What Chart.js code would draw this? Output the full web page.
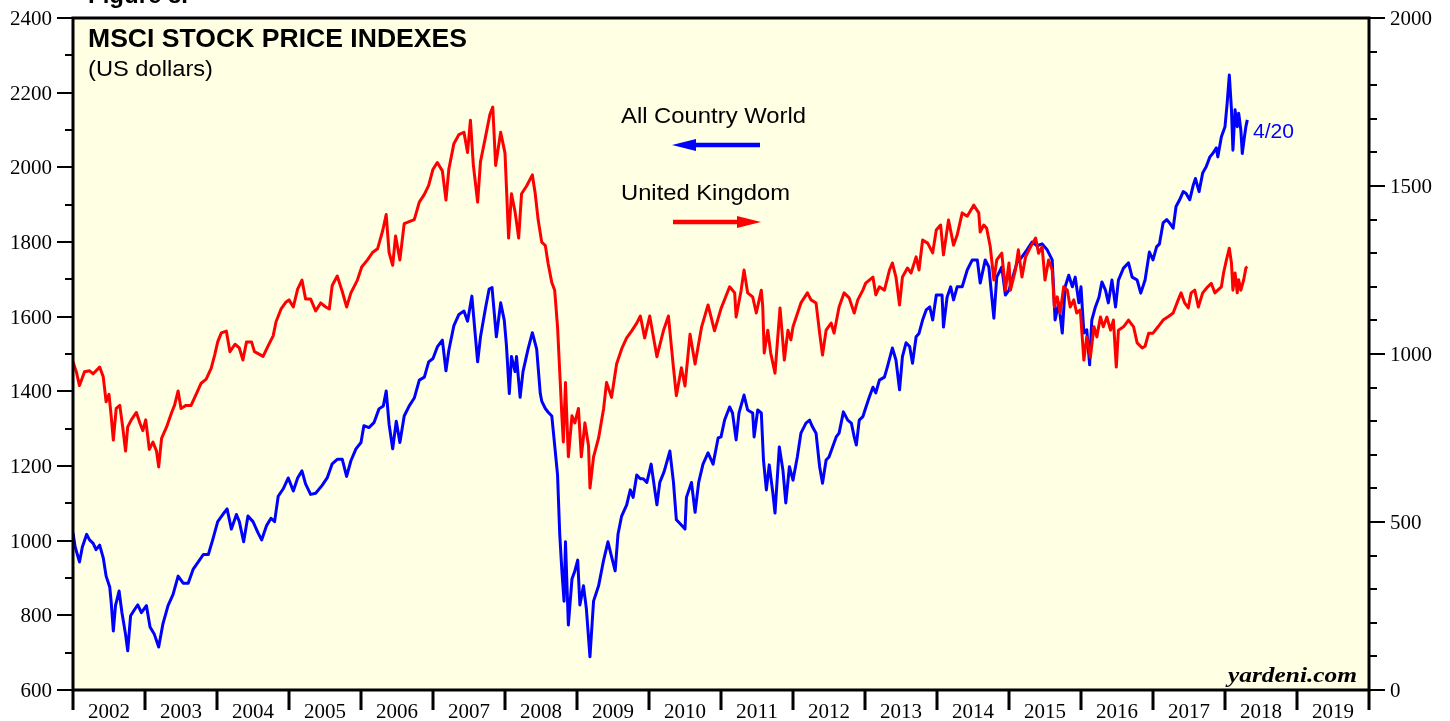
<!DOCTYPE html>
<html>
<head>
<meta charset="utf-8">
<script src="https://cdn.jsdelivr.net/npm/chart.js@4.4.1/dist/chart.umd.min.js"></script>
<style>
html,body{margin:0;padding:0;background:#fff;}
canvas{display:block;}
</style>
</head>
<body>
<canvas id="c" width="1450" height="721"></canvas>
<script>
// ---- Data ----
const yearLabels = ['2002','2003','2004','2005','2006','2007','2008','2009','2010','2011','2012','2013','2014','2015','2016','2017','2018','2019'];

// MSCI All Country World (left axis, US dollars)
const acwYears = [
2002.00,2002.03,2002.09,2002.13,2002.19,2002.23,2002.28,2002.32,2002.37,2002.42,2002.46,2002.51,2002.53,2002.56,2002.59,2002.64,2002.68,2002.73,2002.76,2002.80,2002.86,2002.90,2002.95,
2003.02,2003.07,2003.13,2003.19,2003.25,2003.32,2003.39,2003.46,2003.53,2003.60,2003.67,2003.74,2003.81,2003.88,2003.94,
2004.01,2004.08,2004.14,2004.20,2004.27,2004.31,2004.37,2004.43,2004.50,2004.57,2004.62,2004.69,2004.75,2004.80,2004.85,2004.92,2004.99,
2005.06,2005.12,2005.18,2005.23,2005.30,2005.37,2005.46,2005.53,2005.60,2005.67,2005.74,2005.80,2005.86,2005.93,
2006.00,2006.04,2006.11,2006.18,2006.25,2006.31,2006.35,2006.39,2006.44,2006.49,2006.54,2006.60,2006.67,2006.74,2006.81,2006.88,2006.94,
2007.00,2007.06,2007.13,2007.18,2007.22,2007.29,2007.36,2007.43,2007.48,2007.54,2007.57,2007.62,2007.66,2007.73,2007.78,2007.82,2007.88,2007.94,2007.99,
2008.02,2008.06,2008.09,2008.14,2008.16,2008.21,2008.25,2008.32,2008.38,2008.44,2008.49,2008.51,2008.56,2008.60,2008.65,2008.69,2008.73,2008.76,2008.79,2008.82,2008.84,2008.88,2008.93,2008.97,
2009.01,2009.04,2009.09,2009.13,2009.18,2009.23,2009.30,2009.37,2009.43,2009.48,2009.53,2009.57,2009.62,2009.69,2009.74,2009.78,2009.83,2009.88,2009.92,2009.97,
2010.03,2010.08,2010.11,2010.15,2010.21,2010.29,2010.34,2010.38,2010.43,2010.50,2010.52,2010.59,2010.64,2010.69,2010.75,2010.82,2010.89,2010.96,
2011.00,2011.05,2011.12,2011.16,2011.21,2011.25,2011.32,2011.37,2011.44,2011.46,2011.51,2011.56,2011.59,2011.63,2011.67,2011.72,2011.75,2011.81,2011.86,2011.90,2011.95,
2012.00,2012.06,2012.11,2012.18,2012.23,2012.27,2012.32,2012.37,2012.41,2012.46,2012.50,2012.55,2012.60,2012.64,2012.70,2012.76,2012.81,2012.85,2012.88,2012.92,2012.97,
2013.00,2013.06,2013.11,2013.15,2013.20,2013.27,2013.31,2013.38,2013.43,2013.48,2013.52,2013.57,2013.62,2013.66,2013.71,2013.75,2013.80,2013.85,2013.90,2013.94,2013.99,
2014.07,2014.09,2014.14,2014.19,2014.23,2014.28,2014.35,2014.42,2014.49,2014.56,2014.60,2014.67,2014.72,2014.79,2014.83,2014.90,2014.95,
2015.00,2015.04,2015.11,2015.18,2015.25,2015.32,2015.39,2015.46,2015.53,2015.60,2015.64,2015.69,2015.74,2015.78,2015.83,2015.88,2015.92,2015.97,
2016.00,2016.04,2016.08,2016.12,2016.15,2016.20,2016.25,2016.29,2016.34,2016.38,2016.43,2016.48,2016.52,2016.59,2016.66,2016.71,2016.78,2016.83,2016.89,2016.95,
2017.00,2017.05,2017.09,2017.14,2017.19,2017.23,2017.28,2017.32,2017.37,2017.42,2017.46,2017.51,2017.56,2017.59,2017.64,2017.69,2017.74,2017.79,2017.83,2017.88,2017.90,2017.95,
2018.00,2018.03,2018.06,2018.09,2018.11,2018.14,2018.17,2018.19,2018.22,2018.24,2018.27,2018.29,2018.31
];
const acwValues = [
1021,983,943,983,1017,1002,993,976,988,954,905,876,836,758,826,865,807,749,705,799,817,828,807,
826,769,749,715,778,826,856,905,886,886,924,943,963,963,1002,
1051,1070,1085,1031,1070,1051,997,1066,1051,1021,1002,1041,1060,1051,1119,1139,1168,
1133,1168,1187,1152,1124,1127,1148,1168,1206,1218,1218,1172,1214,1246,
1263,1308,1303,1316,1353,1361,1401,1312,1246,1320,1263,1334,1361,1382,1430,1438,1479,
1488,1519,1537,1455,1510,1576,1606,1615,1588,1655,1588,1479,1546,1624,1674,1678,1546,1637,1590,
1523,1394,1493,1453,1493,1384,1453,1513,1557,1513,1394,1374,1354,1344,1334,1255,1176,1018,919,838,997,774,897,919,
948,828,879,818,689,838,879,948,997,957,919,1018,1066,1096,1136,1116,1176,1166,1166,1156,
1205,1136,1096,1156,1185,1240,1156,1056,1046,1031,1116,1156,1076,1156,1205,1235,1205,1275,
1278,1323,1358,1342,1270,1342,1390,1350,1342,1278,1350,1342,1216,1136,1203,1128,1074,1251,1189,1101,1198,
1162,1224,1288,1315,1323,1305,1288,1198,1154,1216,1224,1251,1278,1288,1345,1323,1315,1278,1256,1323,1332,
1350,1385,1411,1396,1430,1438,1465,1516,1484,1404,1493,1530,1520,1475,1546,1555,1591,1618,1626,1591,1658,
1658,1572,1652,1680,1645,1680,1680,1725,1752,1752,1690,1752,1733,1596,1706,1733,1658,
1671,1698,1744,1760,1779,1800,1790,1795,1779,1752,1591,1637,1556,1680,1711,1680,1706,1637,
1680,1556,1565,1471,1591,1626,1652,1693,1671,1637,1698,1626,1698,1730,1744,1706,1698,1663,1698,1773,
1752,1787,1795,1851,1860,1851,1837,1895,1913,1935,1930,1913,1953,1970,1935,1985,2002,2028,2037,2052,2028,2082,
2109,2172,2247,2154,2046,2154,2109,2145,2100,2037,2082,2109,2127
];

// MSCI United Kingdom (right axis, US dollars)
const ukYears = [
2002.00,2002.05,2002.09,2002.16,2002.23,2002.28,2002.37,2002.42,2002.46,2002.50,2002.53,2002.56,2002.60,2002.65,2002.69,2002.73,2002.76,2002.81,2002.88,2002.93,2002.97,
2003.01,2003.06,2003.11,2003.16,2003.19,2003.23,2003.30,2003.37,2003.41,2003.46,2003.50,2003.57,2003.64,2003.71,2003.78,2003.85,2003.92,2003.97,
2004.01,2004.06,2004.13,2004.18,2004.25,2004.31,2004.36,2004.41,2004.48,2004.52,2004.59,2004.64,2004.71,2004.78,2004.82,2004.89,2004.96,
2005.00,2005.06,2005.12,2005.18,2005.23,2005.30,2005.37,2005.44,2005.51,2005.56,2005.60,2005.67,2005.74,2005.80,2005.86,2005.95,
2006.01,2006.09,2006.16,2006.23,2006.30,2006.35,2006.39,2006.44,2006.48,2006.54,2006.60,2006.67,2006.74,2006.81,2006.88,2006.94,
2007.00,2007.06,2007.13,2007.18,2007.22,2007.29,2007.36,2007.43,2007.48,2007.52,2007.56,2007.62,2007.66,2007.73,2007.79,2007.83,2007.87,2007.94,
2008.00,2008.05,2008.09,2008.14,2008.19,2008.23,2008.30,2008.38,2008.42,2008.46,2008.51,2008.56,2008.60,2008.65,2008.69,2008.73,2008.76,2008.79,2008.81,2008.84,2008.88,2008.93,2008.97,
2009.02,2009.06,2009.11,2009.16,2009.18,2009.23,2009.30,2009.37,2009.41,2009.48,2009.55,2009.62,2009.69,2009.76,2009.83,2009.88,2009.94,
2010.01,2010.11,2010.20,2010.27,2010.34,2010.38,2010.45,2010.50,2010.57,2010.64,2010.73,2010.82,2010.91,
2011.00,2011.12,2011.19,2011.21,2011.28,2011.32,2011.37,2011.44,2011.49,2011.56,2011.58,2011.60,2011.65,2011.69,2011.75,2011.82,2011.88,2011.93,2011.97,
2012.00,2012.11,2012.20,2012.25,2012.32,2012.37,2012.41,2012.46,2012.53,2012.57,2012.64,2012.71,2012.78,2012.85,2012.90,2012.97,
2013.01,2013.06,2013.11,2013.15,2013.20,2013.27,2013.34,2013.38,2013.43,2013.48,2013.52,2013.59,2013.64,2013.71,2013.75,2013.80,2013.87,2013.94,2013.99,
2014.05,2014.09,2014.16,2014.23,2014.28,2014.35,2014.42,2014.51,2014.58,2014.60,2014.65,2014.69,2014.74,2014.79,2014.83,2014.90,2014.95,
2015.00,2015.02,2015.09,2015.13,2015.18,2015.23,2015.30,2015.37,2015.41,2015.46,2015.50,2015.55,2015.60,2015.63,2015.67,2015.71,2015.76,2015.81,2015.85,2015.90,2015.94,2015.99,
2016.04,2016.08,2016.13,2016.18,2016.22,2016.27,2016.31,2016.36,2016.41,2016.45,2016.49,2016.52,2016.59,2016.66,2016.73,2016.78,2016.85,2016.89,2016.94,
2017.00,2017.07,2017.14,2017.21,2017.28,2017.35,2017.39,2017.44,2017.49,2017.53,2017.58,2017.63,2017.69,2017.76,2017.81,2017.86,2017.90,2017.95,2017.98,
2018.02,2018.06,2018.09,2018.11,2018.14,2018.17,2018.19,2018.22,2018.26,2018.29,2018.31
];
const ukValues = [
977,944,906,947,950,941,961,932,858,880,816,744,838,847,783,711,783,804,826,794,772,
804,716,738,711,664,749,783,826,847,890,838,847,847,880,913,925,958,999,
1036,1063,1068,1007,1029,1018,982,1036,1036,1007,999,993,1024,1054,1096,1134,1155,
1161,1140,1193,1220,1164,1164,1128,1152,1140,1134,1204,1232,1186,1140,1182,1220,
1259,1280,1302,1313,1366,1415,1302,1264,1351,1280,1388,1394,1400,1452,1475,1502,
1550,1570,1545,1458,1550,1626,1653,1660,1600,1696,1563,1452,1573,1647,1713,1735,1561,1660,
1598,1345,1477,1423,1345,1477,1500,1533,1477,1400,1333,1323,1268,1213,1190,1080,948,816,738,915,694,816,795,
838,694,795,727,601,694,750,838,915,871,970,1015,1048,1069,1092,1113,1048,
1113,992,1069,1113,959,876,959,905,1059,970,1080,1146,1069,
1135,1200,1182,1110,1190,1250,1182,1170,1122,1190,1140,1003,1071,1003,943,1137,982,1071,1042,
1081,1152,1182,1161,1152,1062,997,1071,1092,1062,1140,1182,1167,1122,1161,1190,
1211,1220,1229,1176,1200,1190,1250,1271,1229,1146,1229,1256,1241,1289,1250,1339,1330,1301,1369,
1384,1295,1399,1324,1354,1420,1410,1443,1420,1363,1384,1374,1319,1220,1280,1300,1190,
1271,1190,1250,1310,1229,1289,1319,1345,1300,1319,1220,1280,1250,1140,1170,1122,1200,1190,1140,1161,1122,1131,
982,1051,990,1081,1051,1110,1081,1110,1071,1101,961,1071,1081,1101,1081,1033,1018,1023,1062,
1062,1081,1101,1111,1122,1161,1182,1152,1137,1182,1190,1140,1182,1200,1210,1182,1190,1200,1241,
1280,1315,1270,1190,1241,1182,1221,1190,1221,1256,1260
];

const leftTicks = {min:600, max:2400, step:100, labelEvery:200};
const rightTicks = {min:0, max:2000, step:100, labelEvery:500};
const endLabel = '4/20';

// ---- Helpers ----
function pts(xs, ys){ return xs.map((x,i)=>({x:x, y:ys[i]})); }

function fitText(ctx, str, x, y, font, color, targetW, align){
  ctx.save();
  ctx.font = font;
  ctx.fillStyle = color;
  ctx.textBaseline = 'alphabetic';
  const w = ctx.measureText(str).width;
  const sx = targetW ? targetW / w : 1;
  let left = x;
  if (align === 'center') left = x - (w*sx)/2;
  if (align === 'right') left = x - (w*sx);
  ctx.translate(left, y);
  ctx.scale(sx, 1);
  ctx.textAlign = 'left';
  ctx.fillText(str, 0, 0);
  ctx.restore();
}

const numFont = '20px "Liberation Serif", "Times New Roman", serif';
const digitW = 10.5;

const deco = {
  id: 'deco',
  beforeDatasetsDraw(chart){
    const {ctx, chartArea:a} = chart;
    ctx.save();
    ctx.fillStyle = '#ffffe4';
    ctx.fillRect(a.left, a.top, a.right-a.left, a.bottom-a.top);
    ctx.restore();
  },
  afterDraw(chart){
    const {ctx, chartArea:a, scales} = chart;
    const xs = scales.x, yl = scales.y, yr = scales.y2;
    ctx.save();
    // ticks
    ctx.strokeStyle = '#000';
    ctx.lineWidth = 2;
    ctx.beginPath();
    for (let v = leftTicks.min; v <= leftTicks.max; v += leftTicks.step){
      const py = Math.round(yl.getPixelForValue(v));
      const len = (v % leftTicks.labelEvery === 0) ? 16 : 8;
      ctx.moveTo(a.left - len, py); ctx.lineTo(a.left, py);
    }
    for (let v = rightTicks.min; v <= rightTicks.max; v += rightTicks.step){
      const py = Math.round(yr.getPixelForValue(v));
      const len = (v % rightTicks.labelEvery === 0) ? 16 : 8;
      ctx.moveTo(a.right, py); ctx.lineTo(a.right + len, py);
    }
    ctx.stroke();
    ctx.lineWidth = 3;
    ctx.beginPath();
    for (let i = 0; i <= yearLabels.length; i++){
      const px = xs.getPixelForValue(parseInt(yearLabels[0]) + i);
      ctx.moveTo(px, a.bottom); ctx.lineTo(px, a.bottom + 20);
    }
    ctx.stroke();
    // frame
    ctx.lineWidth = 3;
    ctx.strokeRect(a.left, a.top, a.right-a.left, a.bottom-a.top);
    ctx.restore();

    // axis value labels (left and right)
    for (let v = leftTicks.min; v <= leftTicks.max; v += leftTicks.labelEvery){
      const py = yl.getPixelForValue(v);
      const s = String(v);
      fitText(ctx, s, a.left - 21, py + 7, numFont, '#000', s.length * digitW, 'right');
    }
    for (let v = rightTicks.min; v <= rightTicks.max; v += rightTicks.labelEvery){
      const py = yr.getPixelForValue(v);
      const s = String(v);
      fitText(ctx, s, a.right + 21, py + 7, numFont, '#000', s.length * digitW, 'left');
    }

    // year labels
    yearLabels.forEach((lab)=>{
      const px = xs.getPixelForValue(parseInt(lab) + 0.5);
      fitText(ctx, lab, px, 718, numFont, '#000', 42, 'center');
    });

    // texts
    fitText(ctx, 'Figure 8.', 88, 3, 'bold 24px "Liberation Sans", Arial, sans-serif', '#000', 0);
    fitText(ctx, 'MSCI STOCK PRICE INDEXES', 88, 46.5, 'bold 25.5px "Liberation Sans", Arial, sans-serif', '#000', 379);
    fitText(ctx, '(US dollars)', 88, 76, '22px "Liberation Sans", Arial, sans-serif', '#000', 125);
    fitText(ctx, 'All Country World', 621, 122.5, '22px "Liberation Sans", Arial, sans-serif', '#000', 185);
    fitText(ctx, 'United Kingdom', 621, 200, '22px "Liberation Sans", Arial, sans-serif', '#000', 169);
    fitText(ctx, endLabel, 1253, 137.5, '19.5px "Liberation Sans", Arial, sans-serif', '#0000ff', 41);
    fitText(ctx, 'yardeni.com', 1228, 681.5, 'bold italic 21px "Liberation Serif", "Times New Roman", serif', '#000', 129);

    // arrows
    ctx.save();
    ctx.lineCap = 'butt';
    ctx.strokeStyle = '#0000ff'; ctx.fillStyle = '#0000ff'; ctx.lineWidth = 4.5;
    ctx.beginPath(); ctx.moveTo(760, 145); ctx.lineTo(692, 145); ctx.stroke();
    ctx.beginPath(); ctx.moveTo(672, 145); ctx.lineTo(696, 139); ctx.lineTo(696, 151); ctx.closePath(); ctx.fill();
    ctx.strokeStyle = '#ff0000'; ctx.fillStyle = '#ff0000';
    ctx.beginPath(); ctx.moveTo(673, 222); ctx.lineTo(742, 222); ctx.stroke();
    ctx.beginPath(); ctx.moveTo(761, 222); ctx.lineTo(737, 216); ctx.lineTo(737, 228); ctx.closePath(); ctx.fill();
    ctx.restore();
  }
};

new Chart(document.getElementById('c'), {
  type: 'line',
  data: {
    datasets: [
      { label: 'United Kingdom', data: pts(ukYears, ukValues), yAxisID: 'y2',
        borderColor: '#ff0000', borderWidth: 3, pointRadius: 0, tension: 0, borderJoinStyle: 'round', fill: false },
      { label: 'All Country World', data: pts(acwYears, acwValues), yAxisID: 'y',
        borderColor: '#0000ff', borderWidth: 3, pointRadius: 0, tension: 0, borderJoinStyle: 'round', fill: false }
    ]
  },
  options: {
    responsive: false,
    devicePixelRatio: 1,
    animation: false,
    layout: { padding: { top: 18, left: 0, right: 0, bottom: 0 } },
    plugins: { legend: { display: false }, tooltip: { enabled: false }, title: { display: false } },
    scales: {
      x: {
        type: 'linear', position: 'bottom', min: 2002, max: 2020,
        ticks: { display: false, stepSize: 1 },
        grid: { display: false }, border: { display: false },
        afterFit: (s) => { s.height = 31; }
      },
      y: {
        type: 'linear', position: 'left', min: leftTicks.min, max: leftTicks.max,
        ticks: { display: false, stepSize: leftTicks.step },
        grid: { display: false }, border: { display: false },
        afterFit: (s) => { s.width = 73; }
      },
      y2: {
        type: 'linear', position: 'right', min: rightTicks.min, max: rightTicks.max,
        ticks: { display: false, stepSize: rightTicks.step },
        grid: { display: false }, border: { display: false },
        afterFit: (s) => { s.width = 81; }
      }
    }
  },
  plugins: [deco]
});
</script>
</body>
</html>
